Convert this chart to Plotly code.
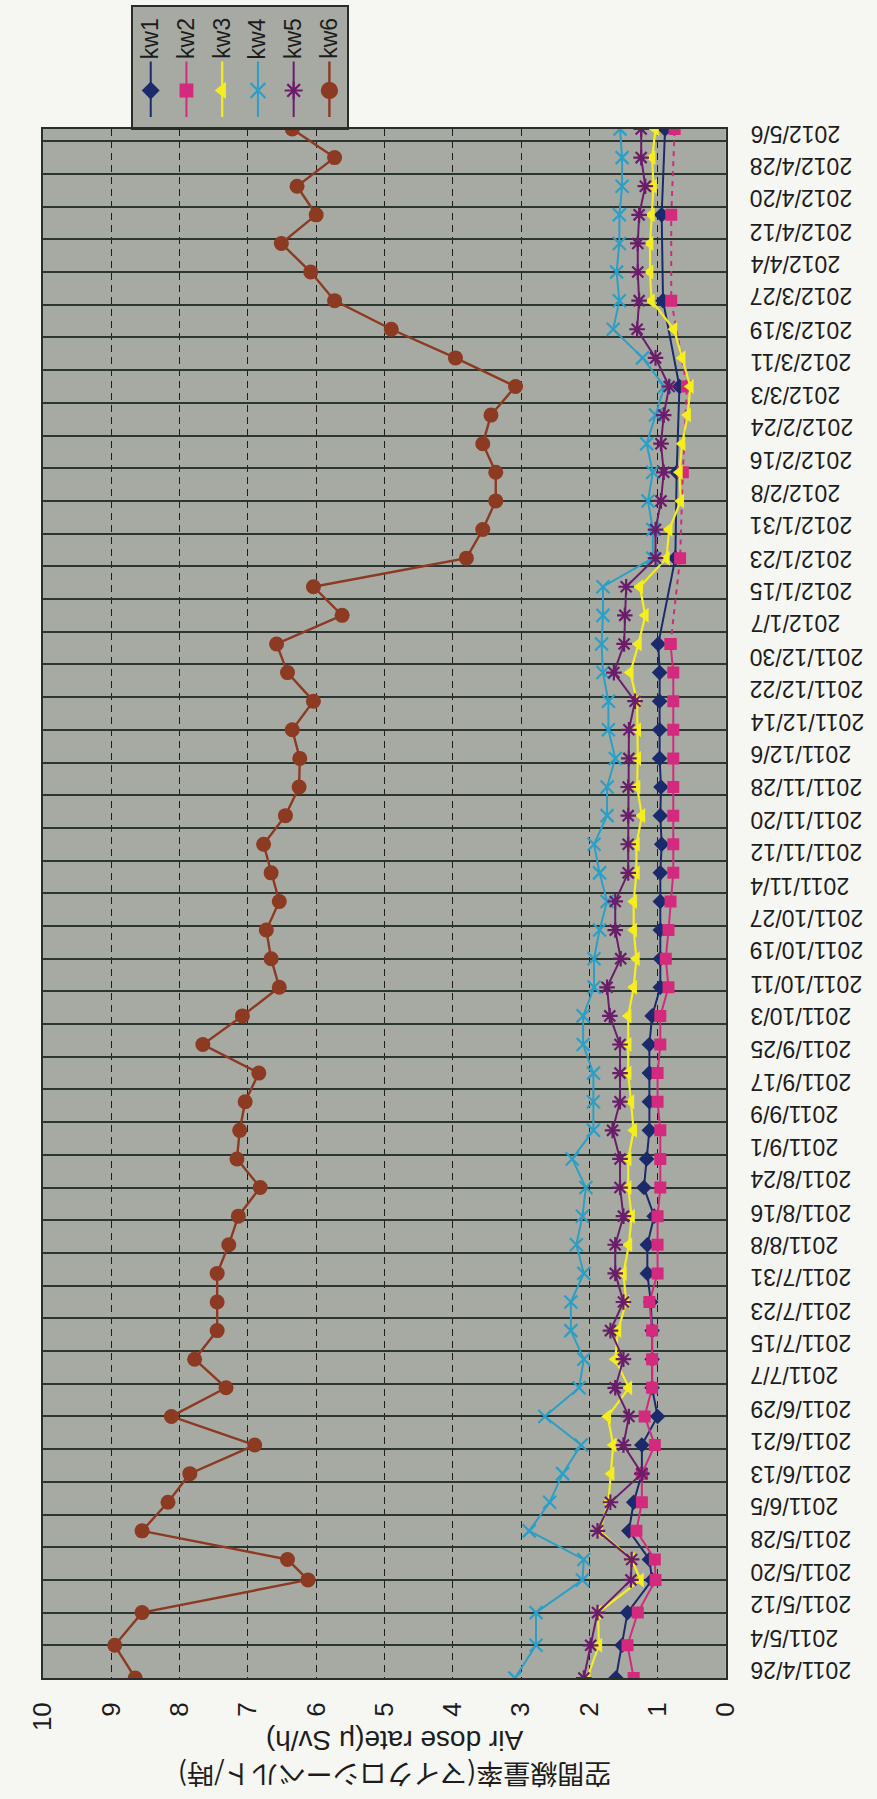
import plotly.graph_objects as go
import pandas as pd

# ---------------- data ----------------
dates = [
    "2011-04-26", "2011-05-04", "2011-05-12", "2011-05-20", "2011-05-25", "2011-06-01",
    "2011-06-08", "2011-06-15", "2011-06-22", "2011-06-29", "2011-07-06", "2011-07-13",
    "2011-07-20", "2011-07-27", "2011-08-03", "2011-08-10", "2011-08-17", "2011-08-24",
    "2011-08-31", "2011-09-07", "2011-09-14", "2011-09-21", "2011-09-28", "2011-10-05",
    "2011-10-12", "2011-10-19", "2011-10-26", "2011-11-02", "2011-11-09", "2011-11-16",
    "2011-11-23", "2011-11-30", "2011-12-07", "2011-12-14", "2011-12-21", "2011-12-28",
    "2012-01-04", "2012-01-11", "2012-01-18", "2012-01-25", "2012-02-01", "2012-02-08",
    "2012-02-15", "2012-02-22", "2012-02-29", "2012-03-07", "2012-03-14", "2012-03-21",
    "2012-03-28", "2012-04-04", "2012-04-11", "2012-04-18", "2012-04-25", "2012-05-02",
    "2012-05-09",
]

# kw1 / kw2 are measured weekly until 2012-01-04, then every three weeks
dates_kw12 = dates[:37] + [
    "2012-01-25", "2012-02-15", "2012-03-07", "2012-03-28", "2012-04-18", "2012-05-09",
]

kw1 = [1.61, 1.52, 1.44, 1.08, 1.12, 1.42, 1.35, 1.23, 1.23, 1.00, 1.08, 1.08,
       1.08, 1.10, 1.15, 1.15, 1.05, 1.20, 1.16, 1.12, 1.12, 1.12, 1.12, 1.08,
       0.96, 0.96, 0.96, 0.96, 0.96, 0.94, 0.96, 0.95, 0.97, 0.97, 0.97, 0.97,
       0.99, 0.74, 0.72, 0.68, 0.92, 0.94, 0.89]
kw2 = [1.35, 1.44, 1.29, 1.03, 1.04, 1.31, 1.23, 1.23, 1.04, 1.19, 1.08, 1.08,
       1.08, 1.12, 1.00, 1.00, 1.00, 0.96, 0.96, 0.96, 1.00, 1.00, 0.96, 0.96,
       0.84, 0.88, 0.84, 0.81, 0.77, 0.77, 0.77, 0.77, 0.77, 0.77, 0.77, 0.77,
       0.81, 0.67, 0.63, 0.57, 0.80, 0.80, 0.75]
kw3 = [2.03, 1.86, 1.87, 1.25, 1.38, 1.85, 1.72, 1.68, 1.65, 1.73, 1.42, 1.62,
       1.58, 1.46, 1.50, 1.42, 1.38, 1.43, 1.43, 1.35, 1.39, 1.43, 1.43, 1.43,
       1.35, 1.31, 1.35, 1.35, 1.31, 1.31, 1.23, 1.30, 1.29, 1.29, 1.30, 1.40,
       1.28, 1.18, 1.26, 0.87, 0.83, 0.66, 0.68, 0.64, 0.56, 0.52, 0.64, 0.76,
       1.09, 1.11, 1.11, 1.09, 1.06, 1.08, 1.03]
kw4 = [3.09, 2.78, 2.78, 2.10, 2.08, 2.88, 2.58, 2.39, 2.12, 2.65, 2.15, 2.08,
       2.27, 2.27, 2.08, 2.19, 2.10, 2.05, 2.25, 1.94, 1.94, 1.94, 2.09, 2.09,
       1.93, 1.93, 1.85, 1.74, 1.85, 1.93, 1.74, 1.74, 1.62, 1.72, 1.72, 1.80,
       1.82, 1.80, 1.80, 1.07, 1.07, 1.14, 1.07, 1.16, 1.03, 0.90, 1.22, 1.65,
       1.56, 1.60, 1.56, 1.56, 1.52, 1.52, 1.55]
kw5 = [2.08, 1.98, 1.88, 1.39, 1.38, 1.88, 1.69, 1.23, 1.50, 1.42, 1.62, 1.50,
       1.69, 1.50, 1.62, 1.62, 1.50, 1.55, 1.55, 1.66, 1.55, 1.55, 1.55, 1.70,
       1.74, 1.54, 1.62, 1.62, 1.43, 1.43, 1.43, 1.43, 1.42, 1.42, 1.33, 1.64,
       1.49, 1.48, 1.46, 1.03, 1.03, 0.95, 0.91, 0.95, 0.91, 0.83, 1.03, 1.30,
       1.27, 1.29, 1.29, 1.27, 1.18, 1.24, 1.24]
kw6 = [8.65, 8.95, 8.55, 6.12, 6.42, 8.55, 8.17, 7.85, 6.90, 8.12, 7.32, 7.78,
       7.45, 7.45, 7.45, 7.28, 7.14, 6.82, 7.16, 7.12, 7.04, 6.84, 7.66, 7.08,
       6.54, 6.66, 6.73, 6.54, 6.66, 6.77, 6.45, 6.25, 6.24, 6.35, 6.04, 6.42,
       6.58, 5.62, 6.04, 3.80, 3.56, 3.37, 3.37, 3.56, 3.44, 3.08, 3.96, 4.90,
       5.73, 6.08, 6.51, 6.00, 6.28, 5.73, 6.35]

date_labels = [
    "2011/4/26", "2011/5/4", "2011/5/12", "2011/5/20", "2011/5/28", "2011/6/5",
    "2011/6/13", "2011/6/21", "2011/6/29", "2011/7/7", "2011/7/15", "2011/7/23",
    "2011/7/31", "2011/8/8", "2011/8/16", "2011/8/24", "2011/9/1", "2011/9/9",
    "2011/9/17", "2011/9/25", "2011/10/3", "2011/10/11", "2011/10/19", "2011/10/27",
    "2011/11/4", "2011/11/12", "2011/11/20", "2011/11/28", "2011/12/6", "2011/12/14",
    "2011/12/22", "2011/12/30", "2012/1/7", "2012/1/15", "2012/1/23", "2012/1/31",
    "2012/2/8", "2012/2/16", "2012/2/24", "2012/3/3", "2012/3/11", "2012/3/19",
    "2012/3/27", "2012/4/4", "2012/4/12", "2012/4/20", "2012/4/28", "2012/5/6",
]
value_ticks = [0, 1, 2, 3, 4, 5, 6, 7, 8, 9, 10]
series_names = ["kw1", "kw2", "kw3", "kw4", "kw5", "kw6"]

# ---------------- styling ----------------
W, H = 877, 1799
PL, PR, PT, PB = 28, 735, 129, 1678          # plot rectangle in px
PLOT_BG = "#a7aaa3"
PAPER_BG = "#f6f6f3"
TEXT = "#1c1c1c"

styles = {
    "kw1": dict(color="#1b2a6b", symbol="diamond", size=12, lw=2.0),
    "kw2": dict(color="#d42a7d", symbol="square", size=12, lw=2.0),
    "kw3": dict(color="#f4ee1c", symbol="triangle-left", size=13, lw=2.2),
    "kw4": dict(color="#2b9fc6", symbol="x-thin-open", size=13, lw=2.0),
    "kw5": dict(color="#6a1e6a", symbol="asterisk-open", size=13, lw=2.0),
    "kw6": dict(color="#8c3a22", symbol="circle", size=15, lw=2.4),
}


def marker_for(name, scale=1.0):
    s = styles[name]
    if s["symbol"].endswith("-open"):
        return dict(symbol=s["symbol"], size=s["size"] * scale, color=s["color"],
                    line=dict(color=s["color"], width=2.2))
    return dict(symbol=s["symbol"], size=s["size"] * scale, color=s["color"],
                line=dict(width=0))


fig = go.Figure()

values = {"kw1": kw1, "kw2": kw2, "kw3": kw3, "kw4": kw4, "kw5": kw5, "kw6": kw6}
for name in series_names:
    s = styles[name]
    if name == "kw2":
        # weekly part drawn solid, three-weekly part dashed
        fig.add_trace(go.Scatter(
            x=kw2[:37], y=dates_kw12[:37], mode="lines+markers", name=name,
            line=dict(color=s["color"], width=s["lw"]), marker=marker_for(name),
            showlegend=False))
        fig.add_trace(go.Scatter(
            x=kw2[36:], y=dates_kw12[36:], mode="lines+markers", name=name,
            line=dict(color=s["color"], width=s["lw"], dash="5px,5px"),
            marker=marker_for(name), showlegend=False))
        continue
    ys = dates_kw12 if name == "kw1" else dates
    fig.add_trace(go.Scatter(
        x=values[name], y=ys, mode="lines+markers", name=name,
        line=dict(color=s["color"], width=s["lw"]), marker=marker_for(name),
        showlegend=False))

# ---------------- axes ----------------
label_dates = [pd.to_datetime(t, format="%Y/%m/%d") for t in date_labels]
label_iso = [d.strftime("%Y-%m-%d") for d in label_dates]

fig.update_layout(
    width=W, height=H,
    margin=dict(l=0, r=0, t=0, b=0),
    paper_bgcolor=PAPER_BG,
    plot_bgcolor=PLOT_BG,
    showlegend=False,
    xaxis=dict(
        domain=[PL / W, PR / W],
        range=[10, 0],
        tickvals=value_ticks,
        ticktext=[str(v) for v in value_ticks],
        tickangle=-90,
        tickfont=dict(family="Liberation Sans", size=26, color=TEXT),
        ticks="",
        ticklabelstandoff=12,
        ticklabeloverflow="allow",
        showgrid=True, gridcolor="#1e1e1e", gridwidth=1.2, griddash="7px,5px",
        zeroline=False,
        showline=True, mirror=True, linecolor="#2a2e2b", linewidth=1.6,
        anchor="y",
    ),
    yaxis=dict(
        domain=[1 - PB / H, 1 - PT / H],
        type="date",
        range=["2011-04-26", "2012-05-09"],
        tickvals=label_iso,
        showticklabels=False,
        ticks="",
        showgrid=True, gridcolor="#2c3631", gridwidth=1.6,
        zeroline=False,
        showline=True, mirror=True, linecolor="#2a2e2b", linewidth=1.6,
        anchor="x",
    ),
)

annotations = []
# date labels, upside down, to the right of the plot
for lab, iso in zip(date_labels, label_iso):
    annotations.append(dict(
        x=758 / W, xref="paper", y=iso, yref="y",
        text=lab, showarrow=False, textangle=180,
        xanchor="left", yanchor="middle", yshift=8,
        font=dict(family="Liberation Sans", size=23, color=TEXT),
    ))

# axis title (two lines, upside down)
annotations.append(dict(
    x=392 / W, y=1 - 1741 / H, xref="paper", yref="paper",
    text="Air dose rate(μ Sv/h)", showarrow=False, textangle=180,
    xanchor="center", yanchor="middle",
    font=dict(family="Liberation Sans", size=28, color=TEXT),
))
annotations.append(dict(
    x=392 / W, y=1 - 1776 / H, xref="paper", yref="paper",
    text="空間線量率(マイクロシーベルト/時)", showarrow=False, textangle=180,
    xanchor="center", yanchor="middle",
    font=dict(family="Noto Sans CJK JP", size=27, color=TEXT),
))

# ---------------- legend box (rotated entries) ----------------
LX0, LX1, LY0, LY1 = 121, 343, 7, 128
fig.update_layout(
    xaxis2=dict(domain=[LX0 / W, LX1 / W], range=[0, 6], visible=True,
                showgrid=False, zeroline=False, showticklabels=False, ticks="",
                showline=True, mirror=True, linecolor="#2a2e2b", linewidth=1.6,
                anchor="y2", fixedrange=True),
    yaxis2=dict(domain=[1 - LY1 / H, 1 - LY0 / H], range=[0, 1], visible=True,
                showgrid=False, zeroline=False, showticklabels=False, ticks="",
                showline=True, mirror=True, linecolor="#2a2e2b", linewidth=1.6,
                anchor="x2", fixedrange=True),
)
for i, name in enumerate(series_names):
    s = styles[name]
    cx = i + 0.5
    fig.add_trace(go.Scatter(
        x=[cx, cx], y=[0.09, 0.55], mode="lines", xaxis="x2", yaxis="y2",
        line=dict(color=s["color"], width=s["lw"]), showlegend=False,
        hoverinfo="skip"))
    fig.add_trace(go.Scatter(
        x=[cx], y=[0.31], mode="markers", xaxis="x2", yaxis="y2",
        marker=marker_for(name, 1.15), showlegend=False, hoverinfo="skip"))
    annotations.append(dict(
        x=cx, y=0.74, xref="x2", yref="y2", text=name, showarrow=False,
        textangle=-90, xanchor="center", yanchor="middle",
        font=dict(family="Liberation Sans", size=23, color=TEXT),
    ))

fig.update_layout(annotations=annotations)

fig.write_html("out.html")
